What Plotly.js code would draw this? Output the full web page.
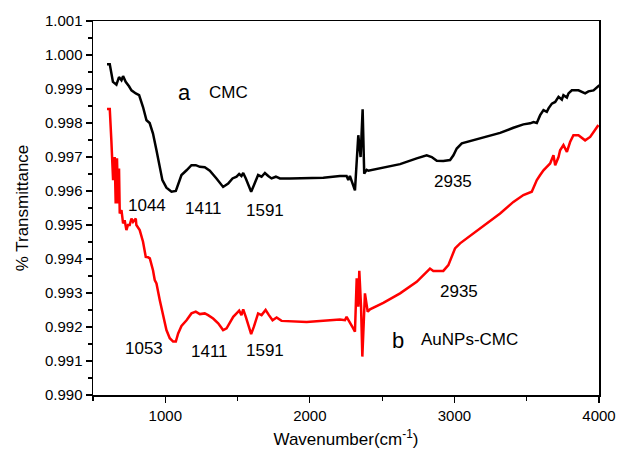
<!DOCTYPE html>
<html><head><meta charset="utf-8">
<script src="https://cdn.plot.ly/plotly-3.0.1.min.js"></script>
<style>html,body{margin:0;padding:0;background:#fff}#chart{width:617px;height:456px}</style>
</head><body><div id="chart"></div>
<script>
// CMC spectrum (curve a)
const cmcWn = [597,616,638,662,680,697,708,726,749,766,796,819,846,870,892,915,939,962,980,1008,1043,1073,1089,1112,1147,1181,1211,1239,1273,1308,1354,1400,1435,1465,1493,1511,1527,1539,1557,1580,1594,1613,1642,1666,1689,1712,1735,1765,1793,1862,1950,2093,2208,2254,2266,2277,2312,2335,2351,2365,2376,2393,2404,2508,2624,2739,2808,2843,2878,2923,2970,2993,3016,3051,3131,3224,3316,3408,3477,3524,3547,3570,3593,3616,3639,3651,3674,3697,3720,3743,3754,3778,3789,3812,3858,3904,3927,3962,3985,4003];
const cmcT = [0.99973,0.99973,0.99921,0.99913,0.99935,0.99926,0.99938,0.99921,0.99908,0.99896,0.99887,0.99882,0.99847,0.99808,0.99800,0.99769,0.99720,0.99671,0.99632,0.99610,0.99598,0.99600,0.99622,0.99647,0.99661,0.99676,0.99676,0.99671,0.99670,0.99660,0.99637,0.99612,0.99622,0.99637,0.99642,0.99650,0.99644,0.99653,0.99637,0.99612,0.99598,0.99617,0.99647,0.99642,0.99653,0.99644,0.99637,0.99642,0.99637,0.99637,0.99638,0.99639,0.99644,0.99644,0.99632,0.99644,0.99602,0.99764,0.99700,0.99840,0.99651,0.99662,0.99660,0.99669,0.99679,0.99696,0.99705,0.99700,0.99689,0.99688,0.99691,0.99705,0.99725,0.99740,0.99749,0.99759,0.99771,0.99786,0.99796,0.99799,0.99803,0.99800,0.99823,0.99838,0.99833,0.99843,0.99857,0.99862,0.99877,0.99869,0.99882,0.99875,0.99887,0.99896,0.99896,0.99887,0.99893,0.99896,0.99906,0.99911];
// AuNPs-CMC spectrum (curve b)
const auWn = [597,616,627,639,650,657,666,673,680,685,697,708,719,731,742,754,766,777,796,800,823,846,865,870,881,893,915,927,939,962,985,1008,1031,1054,1073,1089,1112,1147,1181,1211,1239,1273,1296,1331,1366,1400,1424,1447,1470,1493,1511,1527,1539,1557,1580,1594,1613,1642,1666,1694,1717,1742,1770,1804,1978,2208,2243,2254,2300,2312,2324,2335,2342,2354,2363,2374,2381,2400,2416,2508,2624,2739,2831,2854,2923,2958,3004,3039,3131,3224,3316,3408,3477,3535,3570,3593,3616,3639,3662,3685,3697,3720,3731,3754,3778,3800,3823,3858,3904,3939,3962,3996];
const auT = [0.99841,0.99841,0.99749,0.99632,0.99700,0.99563,0.99696,0.99563,0.99666,0.99534,0.99544,0.99505,0.99514,0.99485,0.99500,0.99500,0.99519,0.99509,0.99519,0.99500,0.99485,0.99451,0.99406,0.99406,0.99405,0.99402,0.99367,0.99338,0.99328,0.99279,0.99230,0.99191,0.99167,0.99157,0.99157,0.99181,0.99203,0.99220,0.99240,0.99245,0.99238,0.99240,0.99235,0.99225,0.99211,0.99191,0.99196,0.99215,0.99230,0.99240,0.99248,0.99235,0.99252,0.99230,0.99196,0.99179,0.99201,0.99240,0.99235,0.99250,0.99235,0.99220,0.99228,0.99218,0.99215,0.99222,0.99220,0.99230,0.99196,0.99186,0.99343,0.99260,0.99365,0.99260,0.99113,0.99250,0.99299,0.99245,0.99252,0.99271,0.99299,0.99333,0.99372,0.99365,0.99365,0.99382,0.99431,0.99446,0.99475,0.99505,0.99534,0.99568,0.99588,0.99598,0.99632,0.99647,0.99661,0.99671,0.99681,0.99705,0.99676,0.99700,0.99720,0.99735,0.99715,0.99744,0.99764,0.99764,0.99749,0.99759,0.99774,0.99794];

const FONT = 'Arial, "Liberation Sans", sans-serif';
const traces = [
  {x: cmcWn, y: cmcT, type: 'scatter', mode: 'lines', line: {color: '#000000', width: 2.5}, showlegend: false},
  {x: auWn, y: auT, type: 'scatter', mode: 'lines', line: {color: '#ff0000', width: 2.5}, showlegend: false}
];
function lab(x, y, t, s) { return {x: x, y: y, text: t, showarrow: false, xref: 'x', yref: 'y', font: {family: FONT, size: s, color: '#000'}}; }
const layout = {
  width: 617, height: 456,
  margin: {l: 93, r: 18, t: 21, b: 61},
  paper_bgcolor: '#fff', plot_bgcolor: '#fff',
  font: {family: FONT, color: '#000'},
  xaxis: {
    range: [500, 4000], tick0: 1000, dtick: 1000, ticks: 'outside', ticklen: 6, tickwidth: 1.2, tickcolor: '#000',
    minor: {dtick: 500, tick0: 500, ticks: 'outside', ticklen: 4, tickcolor: '#000'},
    showline: true, linecolor: '#000', linewidth: 1.5, mirror: true, showgrid: false, zeroline: false,
    tickfont: {family: FONT, size: 15}, title: {text: 'Wavenumber(cm<sup>-1</sup>)', font: {family: FONT, size: 17}, standoff: 10}
  },
  yaxis: {
    range: [0.990, 1.001], tick0: 0.990, dtick: 0.001, tickformat: '.3f', ticks: 'outside', ticklen: 6, tickwidth: 1.2, tickcolor: '#000',
    minor: {dtick: 0.0005, ticks: 'outside', ticklen: 4, tickcolor: '#000'},
    showline: true, linecolor: '#000', linewidth: 1.5, mirror: true, showgrid: false, zeroline: false,
    tickfont: {family: FONT, size: 15}, title: {text: '% Transmittance', font: {family: FONT, size: 17}, standoff: 12}
  },
  annotations: [
    lab(1135, 0.99890, 'a', 22), lab(1440, 0.99890, 'CMC', 17),
    lab(875, 0.99558, '1044', 17), lab(1261, 0.99549, '1411', 17), lab(1692, 0.99544, '1591', 17),
    lab(2988, 0.99627, '2935', 17),
    lab(852, 0.99137, '1053', 17), lab(1306, 0.99127, '1411', 17), lab(1692, 0.99130, '1591', 17),
    lab(3035, 0.99304, '2935', 17),
    lab(2607, 0.99160, 'b', 22), lab(3102, 0.99164, 'AuNPs-CMC', 17)
  ]
};
Plotly.newPlot('chart', traces, layout, {staticPlot: true, displayModeBar: false});
</script></body></html>
